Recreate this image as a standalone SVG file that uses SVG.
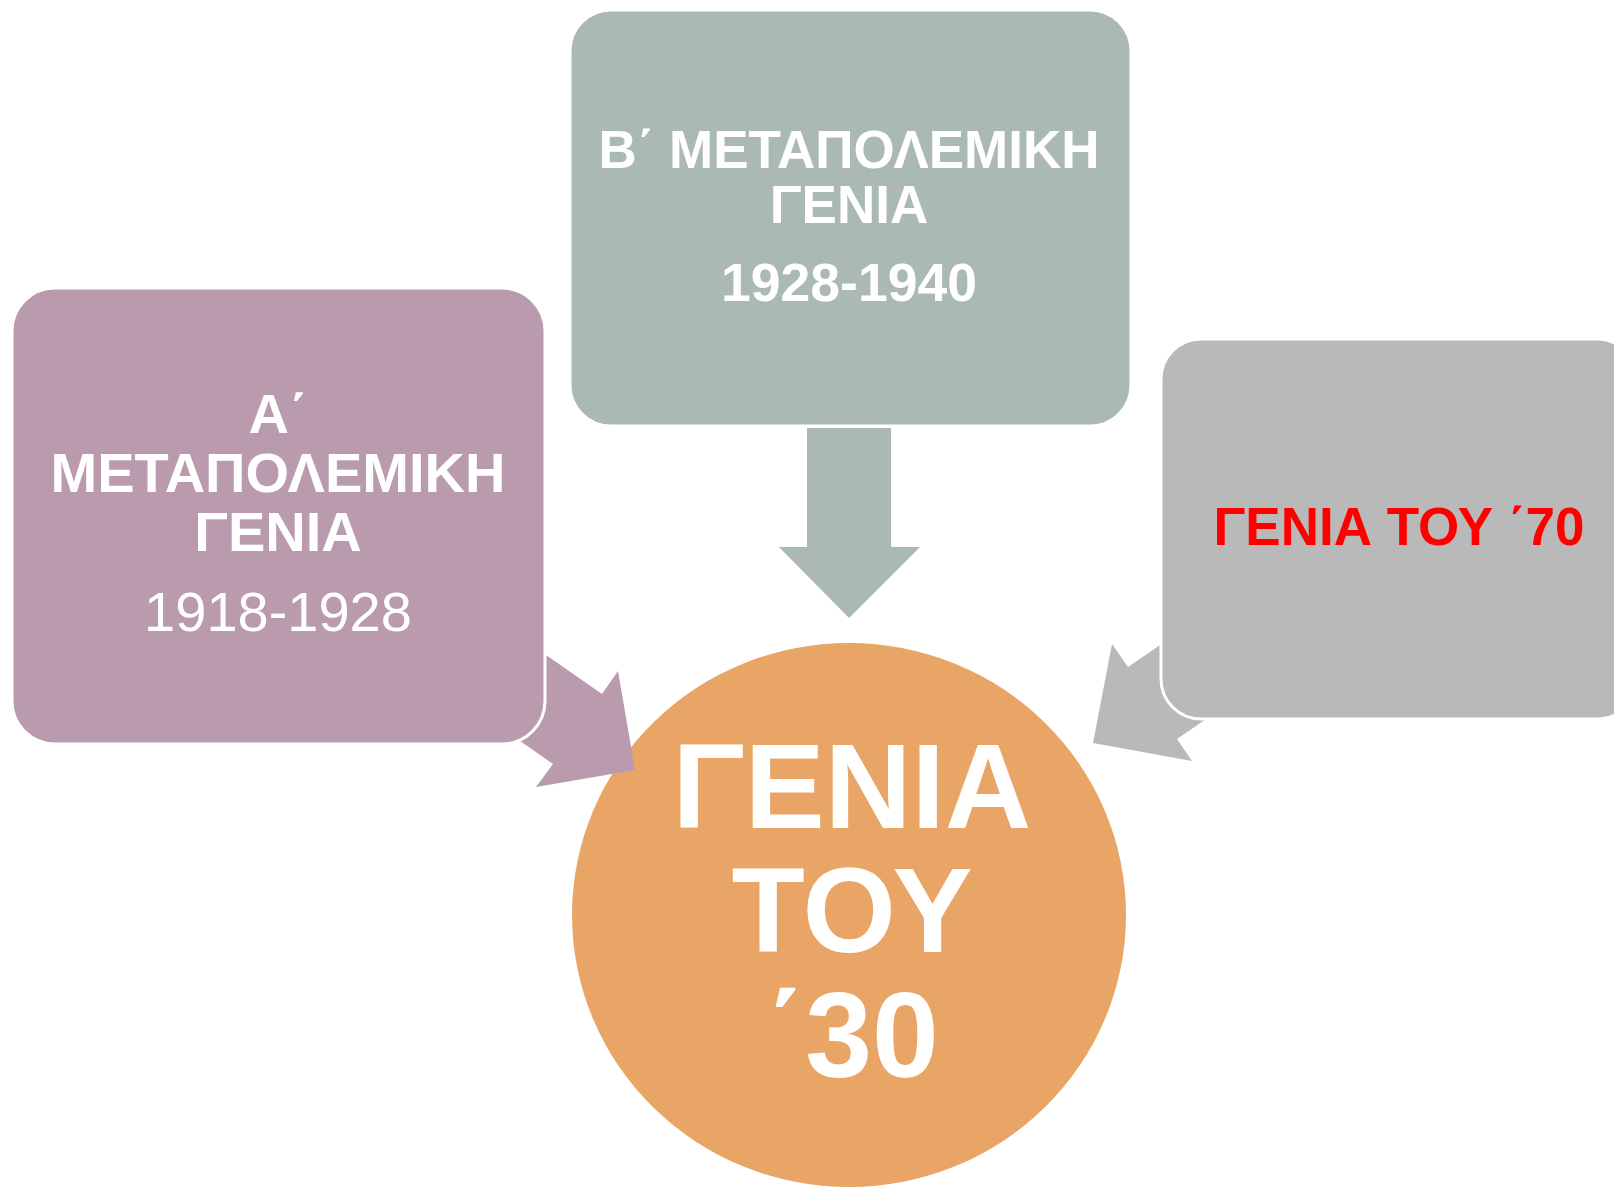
<svg xmlns="http://www.w3.org/2000/svg" width="1614" height="1189" viewBox="0 0 1614 1189">
<style>
.t{font-family:"Liberation Sans",Arial,sans-serif;font-weight:bold;fill:#fff;text-anchor:middle}
.r{font-weight:normal}
.box{stroke:#fff;stroke-width:3}
</style>
<rect width="1614" height="1189" fill="#fff"/>
<g id="center">
<ellipse cx="849" cy="915" rx="277" ry="272" fill="#E8A565"/>
<text class="t" x="852" y="828" font-size="120">ΓΕΝΙΑ</text>
<text class="t" x="852" y="952" font-size="120">ΤΟΥ</text>
<text class="t" x="852" y="1077" font-size="120">΄30</text>
</g>
<g id="connectors">
<polygon points="424,570 602,694 618,671 635,770 536,787 553,764 397,655" fill="#BA9AAD"/>
<polygon points="807,428 891,428 891,547 920,547 849,618 779,547 807,547" fill="#ABB9B5"/>
<polygon points="1252,582 1128,667 1112,644 1093,743 1192,761 1177,739 1301,654" fill="#B9B9B9"/>
</g>
<g id="gen-a">
<rect class="box" x="12" y="288" width="533" height="456" rx="43" fill="#BA9AAD"/>
<text class="t" x="278" y="433" font-size="56">Α΄</text>
<text class="t" x="278" y="492" font-size="56">ΜΕΤΑΠΟΛΕΜΙΚΗ</text>
<text class="t" x="278" y="551" font-size="56">ΓΕΝΙΑ</text>
<text class="t r" x="278" y="631" font-size="56">1918-1928</text>
</g>
<g id="gen-b">
<rect class="box" x="570" y="10" width="561" height="416" rx="41" fill="#ABB9B5"/>
<text class="t" x="849" y="168" font-size="53">Β΄ ΜΕΤΑΠΟΛΕΜΙΚΗ</text>
<text class="t" x="849" y="223" font-size="53">ΓΕΝΙΑ</text>
<text class="t" x="849" y="301" font-size="53.5">1928-1940</text>
</g>
<g id="gen-70">
<rect class="box" x="1161" y="339" width="476" height="380" rx="40" fill="#B9B9B9"/>
<text class="t" x="1399" y="545" font-size="53" style="fill:#FF0000">ΓΕΝΙΑ ΤΟΥ ΄70</text>
</g>
</svg>
